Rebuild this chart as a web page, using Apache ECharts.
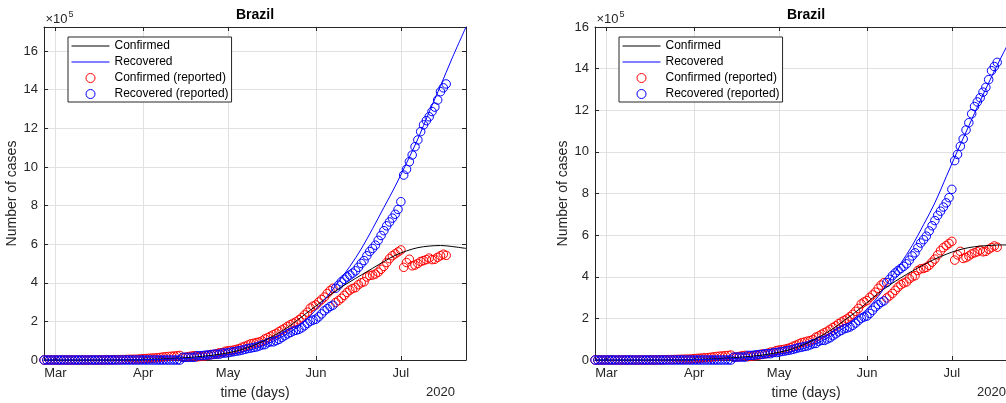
<!DOCTYPE html>
<html>
<head>
<meta charset="utf-8">
<script src="https://cdn.jsdelivr.net/npm/echarts@6/dist/echarts.min.js"></script>
<style>
html,body{margin:0;padding:0;background:#fff;overflow:hidden}
#c{width:1006px;height:403px}
</style>
</head>
<body>
<div id="c"></div>
<script>
// ---------------- data ----------------
const startDate = '2020-02-26';   // first day on the time axis
const dayCount = 150;             // Feb 26 .. Jul 24 2020
const monthNames = ['Jan','Feb','Mar','Apr','May','Jun','Jul','Aug','Sep','Oct','Nov','Dec'];
const legendNames = ['Confirmed','Recovered','Confirmed (reported)','Recovered (reported)'];
const yearLabel = '2020';

// reported data, one value per day from Feb 26 (units of 1e5 cases)
const confirmedReported = [
  0,0,0,0,0,0,0,0,0,0,0,0,0,0,0,0,
  0.0015,0.0015,0.0016,0.002,0.0032,0.0037,0.0062,0.0078,0.010,0.015,0.019,0.022,0.025,0.029,0.033,0.037,0.040,0.043,0.054,
  0.066,0.077,0.086,0.099,0.105,0.115,0.133,0.153,0.171,0.185,0.195,0.208,0.219,0.237,
  0.126,0.145,0.175,0.203,0.222,0.160,0.182,0.199,0.214,0.238,0.287,0.287,0.327,0.380,0.382,0.452,
  0.478,0.494,0.518,0.554,0.593,0.667,0.712,0.776,0.837,0.866,0.906,0.932,0.985,1.096,1.157,1.237,
  1.308,1.381,1.471,1.560,1.641,1.744,1.828,1.906,1.976,2.081,2.196,2.339,2.478,2.687,2.790,
  2.854,3.005,3.129,3.260,3.446,3.598,3.714,
  2.98,3.08,3.20,3.35,3.50,3.62,3.70,3.75,3.90,4.00,4.05,4.30,4.38,4.40,4.45,4.55,4.70,4.85,5.05,5.25,5.40,5.50,5.60,5.70,
  4.80,5.05,5.22,4.88,4.92,5.00,5.10,5.15,5.20,5.28,5.20,5.22,5.32,5.40,5.48,5.42
];
const recoveredReported = [
  0,0,0,0,0,0,0,0,0,0,0,0,0,0,0,0,
  0,0,0,0,0,0,0,0,0,0,0,0,0,0,0,0,0,0,0,
  0,0,0,0,0,0,0,0,0,0,0,0,0,0,
  0.140,0.140,0.140,0.140,0.140,0.221,0.221,0.230,0.253,0.266,0.266,0.302,0.302,0.302,0.359,0.359,
  0.380,0.409,0.430,0.458,0.482,0.514,0.554,0.593,0.617,0.650,0.674,0.726,0.784,0.795,0.897,0.941,
  0.941,1.005,1.068,1.167,1.260,1.354,1.426,1.499,1.538,1.586,1.666,1.776,1.895,2.009,2.066,
  2.111,2.236,2.386,2.550,2.661,2.771,2.840,
  3.72,3.88,4.05,4.18,4.30,4.40,4.50,4.62,4.80,5.00,5.15,5.40,5.62,5.78,5.95,6.20,6.45,6.70,6.95,7.15,7.35,7.55,7.80,8.20,
  9.58,9.88,10.27,10.62,11.05,11.40,11.83,12.18,12.40,12.60,12.87,13.10,13.47,13.90,14.10,14.30
];

// fitted model curves (day index from Feb 26, units of 1e5)
const modelDays = [0,7,14,21,28,35,42,49,56,63,70,77,84,88,92,96,100,104,108,112,116,120,124,128,132,136,140,144,149];
const modelConfirmedLeft  = [0,0,0,0.002,0.01,0.03,0.06,0.11,0.19,0.32,0.55,0.95,1.5,1.9,2.35,2.8,3.25,3.68,4.05,4.4,4.75,5.1,5.42,5.65,5.82,5.9,5.93,5.88,5.78];
const modelRecoveredLeft  = [0,0,0,0,0.005,0.015,0.035,0.07,0.13,0.24,0.42,0.72,1.2,1.55,2.0,2.6,3.3,4.05,4.85,5.75,6.8,7.9,9.0,10.2,11.45,12.85,14.2,15.6,17.25];
const modelConfirmedRight = [0,0,0,0.002,0.01,0.03,0.06,0.11,0.19,0.32,0.55,0.95,1.5,1.9,2.3,2.75,3.2,3.6,3.95,4.27,4.57,4.85,5.08,5.27,5.4,5.47,5.51,5.53,5.53];
const modelRecoveredRight = [0,0,0,0,0.005,0.015,0.035,0.07,0.13,0.24,0.42,0.72,1.2,1.55,1.95,2.45,3.05,3.85,4.65,5.5,6.5,7.55,8.8,10.05,11.25,12.45,13.6,14.7,16.0];

const yMaxLeft = 17.25;
const yMaxRight = 16;
const yStep = 2;

// ---------------- chart ----------------
const categories = [];
{
  const t0 = Date.parse(startDate + 'T00:00:00Z');
  for (let i = 0; i < dayCount; i++) {
    categories.push(new Date(t0 + i * 86400000).toISOString().slice(0, 10));
  }
}
const isMonthStart = (idx, val) => String(val).slice(8, 10) === '01';
const FONT = '"Liberation Sans", Arial, Helvetica, sans-serif';
const AX = '#262626';
const GRIDC = '#e1e1e1';

const panels = [
  {left: 44,  yMax: yMaxLeft,  conf: modelConfirmedLeft,  rec: modelRecoveredLeft},
  {left: 595, yMax: yMaxRight, conf: modelConfirmedRight, rec: modelRecoveredRight}
];

const legendData = legendNames.map((n, i) => i < 2 ? {name: n, itemStyle: {opacity: 0}} : {name: n});

const grid = [], xAxis = [], yAxis = [], series = [], legend = [], graphic = [];
panels.forEach((p, g) => {
  grid.push({left: p.left, top: 27, width: 422, height: 333, outerBoundsMode: 'none', containLabel: false});
  xAxis.push({
    type: 'category', gridIndex: g, data: categories, boundaryGap: false, position: 'bottom',
    axisLine: {onZero: false, lineStyle: {color: AX, width: 1}},
    axisTick: {inside: true, length: 4, interval: isMonthStart, lineStyle: {color: AX}},
    axisLabel: {interval: isMonthStart, formatter: v => monthNames[+v.slice(5, 7) - 1],
                color: AX, fontSize: 13, margin: 7, fontFamily: FONT},
    splitLine: {show: true, interval: isMonthStart, lineStyle: {color: GRIDC, width: 1}},
    name: 'time (days)', nameLocation: 'middle', nameGap: 26, nameMoveOverlap: false,
    nameTextStyle: {color: AX, fontSize: 14, fontFamily: FONT}
  });
  xAxis.push({
    type: 'category', gridIndex: g, data: categories, boundaryGap: false, position: 'top',
    axisLine: {onZero: false, lineStyle: {color: AX, width: 1}},
    axisTick: {inside: true, length: 4, interval: isMonthStart, lineStyle: {color: AX}},
    axisLabel: {show: false}, splitLine: {show: false}
  });
  yAxis.push({
    type: 'value', gridIndex: g, min: 0, max: p.yMax, interval: yStep, position: 'left',
    axisLine: {show: true, onZero: false, lineStyle: {color: AX, width: 1}},
    axisTick: {show: true, inside: true, length: 4, lineStyle: {color: AX}},
    axisLabel: {color: AX, fontSize: 13, margin: 6, fontFamily: FONT,
                showMaxLabel: p.yMax % yStep === 0},
    splitLine: {show: true, lineStyle: {color: GRIDC, width: 1}},
    name: 'Number of cases', nameLocation: 'middle', nameGap: 25, nameMoveOverlap: false,
    nameTextStyle: {color: AX, fontSize: 14, fontFamily: FONT}
  });
  yAxis.push({
    type: 'value', gridIndex: g, min: 0, max: p.yMax, interval: yStep, position: 'right',
    axisLine: {show: true, onZero: false, lineStyle: {color: AX, width: 1}},
    axisTick: {show: true, inside: true, length: 4, lineStyle: {color: AX}},
    axisLabel: {show: false}, splitLine: {show: false}
  });
  const xi = 2 * g, yi = 2 * g;
  const circle = (name, data, color) => ({
    type: 'scatter', name, xAxisIndex: xi, yAxisIndex: yi, data,
    symbol: 'circle', symbolSize: 8.5, z: 2, silent: true,
    itemStyle: {color: 'rgba(0,0,0,0)', borderColor: color, borderWidth: 1, opacity: 1},
    emphasis: {disabled: true}
  });
  const curve = (name, vals, color) => ({
    type: 'line', name, xAxisIndex: xi, yAxisIndex: yi,
    data: modelDays.map((d, i) => [d, vals[i]]),
    symbol: 'none', smooth: 0.35, z: 3, silent: true, color,
    lineStyle: {color, width: 1}, emphasis: {disabled: true}
  });
  series.push(circle('Confirmed (reported)', confirmedReported, '#ff0000'));
  series.push(circle('Recovered (reported)', recoveredReported, '#0000ff'));
  series.push(curve('Confirmed', p.conf, '#000000'));
  series.push(curve('Recovered', p.rec, '#0000ff'));

  legend.push({
    left: p.left + 24, top: 37, orient: 'vertical', itemWidth: 38, itemHeight: 9, itemGap: 0,
    padding: [1, 3, 0, 3], borderColor: AX, borderWidth: 1, backgroundColor: '#fff',
    textStyle: {fontSize: 12, lineHeight: 16, color: '#000', fontFamily: FONT},
    lineStyle: {width: 1}, itemStyle: {borderWidth: 1},
    selectedMode: false, data: legendData, z: 10
  });

  const cx = p.left + 211;
  graphic.push({type: 'text', x: cx, y: 15, z: 20,
    style: {text: 'Brazil', fill: '#000', font: 'bold 14px ' + FONT,
            align: 'center', verticalAlign: 'middle', textAlign: 'center', textVerticalAlign: 'middle'}});
  graphic.push({type: 'text', x: p.left + 1.5, y: 19.5, z: 20,
    style: {text: '\u00d710', fill: AX, font: '13px ' + FONT,
            align: 'left', verticalAlign: 'middle', textAlign: 'left', textVerticalAlign: 'middle'}});
  graphic.push({type: 'text', x: p.left + 24.5, y: 15, z: 20,
    style: {text: '5', fill: AX, font: '9px ' + FONT,
            align: 'left', verticalAlign: 'middle', textAlign: 'left', textVerticalAlign: 'middle'}});
  graphic.push({type: 'text', x: p.left + 396.5, y: 392.7, z: 20,
    style: {text: yearLabel, fill: AX, font: '13px ' + FONT,
            align: 'center', verticalAlign: 'middle', textAlign: 'center', textVerticalAlign: 'middle'}});
});

const chart = echarts.init(document.getElementById('c'), null, {renderer: 'canvas'});
chart.setOption({
  backgroundColor: '#ffffff',
  animation: false,
  textStyle: {fontFamily: FONT},
  grid, xAxis, yAxis, series, legend, graphic,
  tooltip: {show: false}
});
</script>
</body>
</html>
